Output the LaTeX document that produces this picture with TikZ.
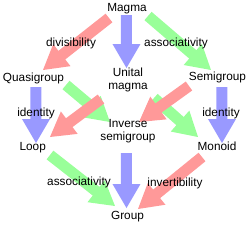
\documentclass[tikz,border=0pt]{standalone}
\usepackage{fontspec}
\setmainfont{Liberation Sans}
\usetikzlibrary{calc}
\definecolor{redA}{RGB}{255,153,153}
\definecolor{blueA}{RGB}{153,153,255}
\definecolor{greenA}{RGB}{153,255,153}
\newcommand\blockarrow[3]{%
  \coordinate (hb) at ($(#3)!24pt!(#2)$);
  \fill[#1] ($(#2)!5.5pt!90:(#3)$) -- ($(hb)!5.5pt!90:(#3)$) -- ($(hb)!14pt!90:(#3)$)
    -- (#3) -- ($(hb)!14pt!-90:(#3)$) -- ($(hb)!5.5pt!-90:(#3)$) -- ($(#2)!5.5pt!-90:(#3)$) -- cycle;}
\begin{document}
\begin{tikzpicture}[x=1pt,y=-1pt,
  lbl/.style={inner sep=0pt,align=center,font=\fontsize{11.8}{13.5}\selectfont,text height=8.5pt,text depth=2.5pt}]
\useasboundingbox (0,0) rectangle (250,226);
% arrow end points
\coordinate (b1s) at (126.5,15);  \coordinate (b1e) at (126.5,68);
\coordinate (b2s) at (126.5,153); \coordinate (b2e) at (126.5,208);
\coordinate (b3s) at (36,87);     \coordinate (b3e) at (36,143);
\coordinate (b4s) at (222,87);    \coordinate (b4e) at (222,143);
\coordinate (r1s) at (109,18);    \coordinate (r1e) at (43,70);
\coordinate (r2s) at (101,99);    \coordinate (r2e) at (50,137);
\coordinate (r3s) at (189,86);    \coordinate (r3e) at (139,122);
\coordinate (r4s) at (202,157);   \coordinate (r4e) at (138,209);
\coordinate (g1s) at (148,16);    \coordinate (g1e) at (211,70);
\coordinate (g2s) at (66,85);     \coordinate (g2e) at (110,122);
\coordinate (g3s) at (154,98);    \coordinate (g3e) at (198,137);
\coordinate (g4s) at (50,155);    \coordinate (g4e) at (115,206);
% arrows
\blockarrow{blueA}{b1s}{b1e}
\blockarrow{blueA}{b2s}{b2e}
\blockarrow{blueA}{b3s}{b3e}
\blockarrow{blueA}{b4s}{b4e}
\blockarrow{greenA}{g1s}{g1e}
\blockarrow{greenA}{g2s}{g2e}
\blockarrow{greenA}{g3s}{g3e}
\blockarrow{greenA}{g4s}{g4e}
\blockarrow{redA}{r1s}{r1e}
\blockarrow{redA}{r2s}{r2e}
\blockarrow{redA}{r3s}{r3e}
\blockarrow{redA}{r4s}{r4e}
% nodes
\node[lbl] (magma) at (127,8) {Magma};
\node[lbl] (unital) at (128,86.5) {Unital\\magma};
\node[lbl] (quasi) at (33.5,78) {Quasigroup};
\node[lbl] (semi) at (217.5,77) {Semigroup};
\node[lbl] (loop) at (32.7,147) {Loop};
\node[lbl] (inverse) at (128,137.5) {Inverse\\semigroup};
\node[lbl] (monoid) at (217,147) {Monoid};
\node[lbl] (group) at (127.5,216.5) {Group};
% labels
\node[lbl] (ldiv) at (71,43) {divisibility};
\node[lbl] (lassoc1) at (176,43) {associativity};
\node[lbl] (lid1) at (36,113) {identity};
\node[lbl] (lid2) at (221,113) {identity};
\node[lbl] (lassoc2) at (79,182.5) {associativity};
\node[lbl] (linv) at (175,183) {invertibility};
\end{tikzpicture}
\end{document}
